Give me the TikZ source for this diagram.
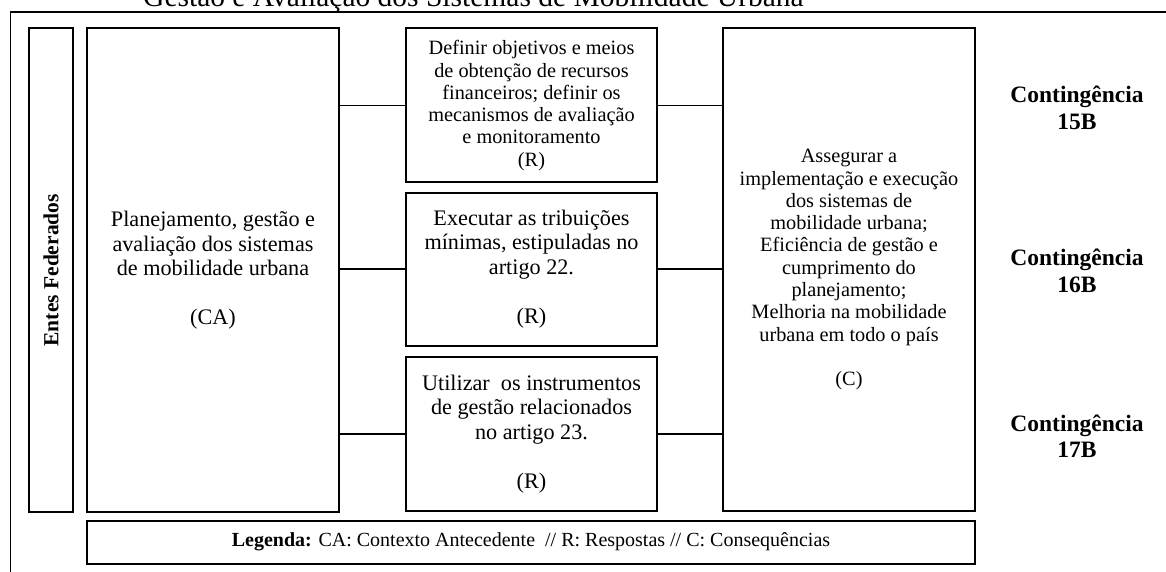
\documentclass[tikz,border=0pt]{standalone}
\usepackage{fontspec}
\setmainfont{Liberation Serif}
\usetikzlibrary{positioning}
\tikzset{
    box/.style = {draw, line width=2pt, inner sep=0pt, outer sep=0pt, align=center},
    tallbox/.style = {box, minimum width=252pt, minimum height=483.5pt},
    rbox/.style = {box, minimum width=251pt, minimum height=154pt},
    cont/.style = {align=center, font=\fontsize{23.5}{26.4}\selectfont\bfseries},
    link/.style = {line width=1.5pt},
}
\newcommand{\bigtxt}{\fontsize{22.2}{24.5}\selectfont}
\newcommand{\smalltxt}{\fontsize{20.3}{22.3}\selectfont}

\begin{document}
\begin{tikzpicture}[x=1pt,y=-1pt]
\path[use as bounding box, clip] (0,0) rectangle (1166,572);
\node (title) [anchor=base west, inner sep=0pt, font=\fontsize{29.5}{32}\selectfont] at (143,7) {Gestão e Avaliação dos Sistemas de Mobilidade Urbana};
\draw[link] (1180,12) -| (10.5,590);
\node (ca) [tallbox, font=\bigtxt] at (213,270.25) {Planejamento, gestão e\\avaliação dos sistemas\\de mobilidade urbana\\[24.5pt](CA)};
\node (ent) [box, rotate=90, minimum width=483.5pt, minimum height=44pt, font=\fontsize{21.5}{24}\selectfont\bfseries] at (51,270.25) {Entes Federados};
\node (r1) [rbox, font=\smalltxt, right=67pt of ca.north east, anchor=north west] {Definir objetivos e meios\\de obtenção de recursos\\financeiros; definir os\\mecanismos de avaliação\\e monitoramento\\(R)};
\node (r2) [rbox, minimum height=153pt, font=\bigtxt, below=10pt of r1] {Executar as tribuições\\mínimas, estipuladas no\\artigo 22.\\[24.5pt](R)};
\node (r3) [rbox, font=\bigtxt, below=11.5pt of r2] {Utilizar~ os instrumentos\\de gestão relacionados\\no artigo 23.\\[24.5pt](R)};
\node (cons) [tallbox, minimum height=482.5pt, font=\smalltxt, right=66pt of r1.north east, anchor=north west] {Assegurar a\\implementação e execução\\dos sistemas de\\mobilidade urbana;\\Eficiência de gestão e\\cumprimento do\\planejamento;\\Melhoria na mobilidade\\urbana em todo o país\\[22.3pt](C)};
\node (leg) [box, minimum width=888pt, minimum height=43pt, font=\fontsize{20}{22}\selectfont, below=8.5pt of ca.south west, anchor=north west] {\textbf{Legenda:} CA: Contexto Antecedente~ // R: Respostas // C: Consequências};
\node (k15) [cont] at (1077,108) {Contingência\\15B};
\node (k16) [cont] at (1077,271) {Contingência\\16B};
\node (k17) [cont] at (1077,436) {Contingência\\17B};
\draw[link] (r1.west -| ca.east) -- (r1.west);
\draw[link] (r2.west -| ca.east) -- (r2.west);
\draw[link] (r3.west -| ca.east) -- (r3.west);
\draw[link] (r1.east) -- (r1.east -| cons.west);
\draw[link] (r2.east) -- (r2.east -| cons.west);
\draw[link] (r3.east) -- (r3.east -| cons.west);
\end{tikzpicture}
\end{document}
